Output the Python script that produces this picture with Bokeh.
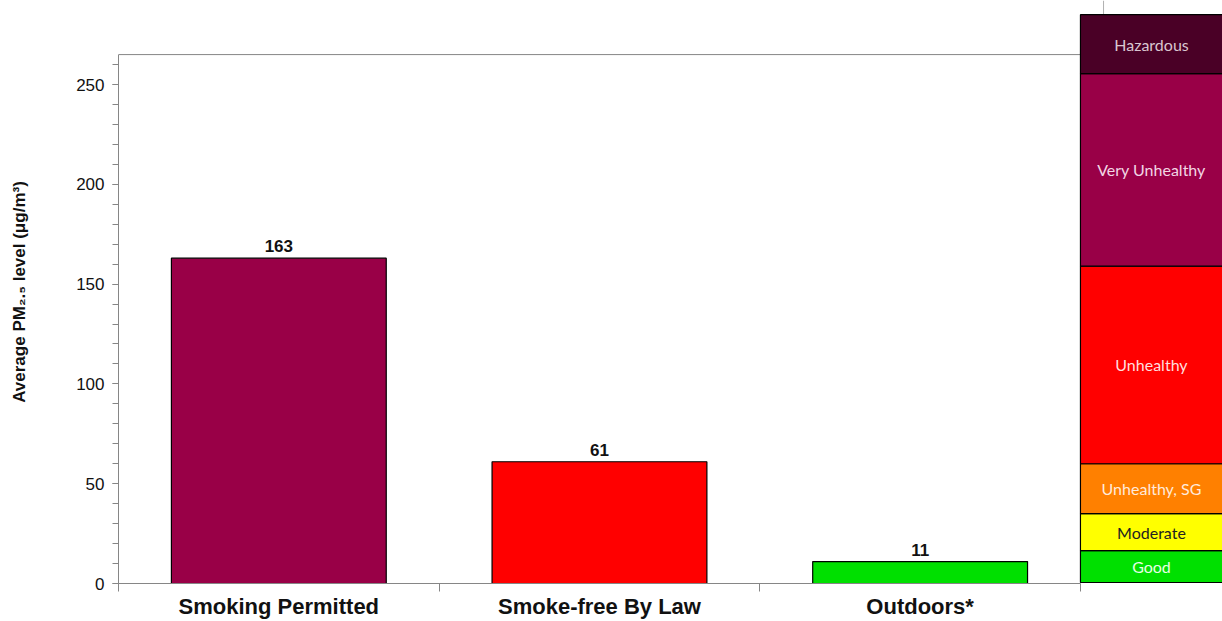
from bokeh.plotting import figure
from bokeh.models import Range1d, SingleIntervalTicker, FixedTicker, ColumnDataSource
from bokeh.core.properties import value
from bokeh.embed import file_html
from bokeh.resources import INLINE

# ---- data ----
categories = ["Smoking Permitted", "Smoke-free By Law", "Outdoors*"]
pm25 = [163, 61, 11]
bar_colors = ["#990047", "#ff0000", "#00e000"]

aqi_names = ["Good", "Moderate", "Unhealthy, SG", "Unhealthy", "Very Unhealthy", "Hazardous"]
aqi_bounds = [0.5, 16.5, 35, 60, 159, 255.5, 285]
aqi_colors = ["#00e000", "#ffff00", "#ff8000", "#ff0000", "#990047", "#4a0026"]
aqi_text_colors = ["#e6ffe6", "#222222", "#ffeadb", "#ffdede", "#f2d6e4", "#d9c6d0"]

Y_MAX = 265          # top of the chart frame
N = len(categories)
X_END = N + 0.443    # room on the right for the AQI colour stack
Y_END = 292.1        # room above for the stack

AX = "#868686"

xc = [i + 0.5 for i in range(N)]
src = ColumnDataSource(dict(x=xc, top=pm25, color=bar_colors, label=[str(v) for v in pm25]))

p = figure(width=1222, height=621, output_backend="svg", toolbar_location=None,
           x_range=Range1d(0, X_END), y_range=Range1d(0, Y_END),
           min_border_left=118, min_border_top=0, min_border_bottom=38, min_border_right=0)
p.background_fill_color = "white"
p.border_fill_color = "white"
p.outline_line_color = None
p.grid.visible = False

# chart frame (top edge)
p.segment(x0=[0], y0=[Y_MAX], x1=[N], y1=[Y_MAX], line_color=AX, line_width=1)

p.vbar(x="x", top="top", width=0.67, bottom=0, fill_color="color", line_color="black",
       line_width=1.2, source=src)
p.text(x="x", y="top", text="label", source=src, text_align="center", text_baseline="bottom",
       y_offset=-6, text_font=value("Liberation Sans"), text_font_size="17px",
       text_font_style="bold", text_color="#111111")

# ---- AQI colour stack ----
q_left = N + 0.0
q_div = N + 0.072
bottoms = aqi_bounds[:-1]
tops = aqi_bounds[1:]
mids = [(b + t) / 2 for b, t in zip(bottoms, tops)]
qsrc = ColumnDataSource(dict(bottom=bottoms, top=tops, color=aqi_colors, name=aqi_names,
                             mid=mids, tcolor=aqi_text_colors,
                             xm=[(q_left + X_END) / 2] * len(aqi_names)))
p.segment(x0=[q_div], y0=[aqi_bounds[-1]], x1=[q_div], y1=[Y_END], line_color="#b0b0b0", line_width=1)
p.quad(left=q_left, right=X_END + 0.05, bottom="bottom", top="top", fill_color="color",
       line_color="black", line_width=1.2, source=qsrc)
p.text(x="xm", y="mid", text="name", source=qsrc, text_align="center", text_baseline="middle",
       text_font=value("Lato"), text_font_size="16px", text_color="tcolor")

# y axis
yax = p.yaxis[0]
yax.bounds = (0, Y_MAX)
yax.ticker = SingleIntervalTicker(interval=50, num_minor_ticks=5)
yax.axis_line_color = AX
yax.major_tick_line_color = AX
yax.minor_tick_line_color = AX
yax.major_tick_in = 0
yax.major_tick_out = 6
yax.minor_tick_in = 0
yax.minor_tick_out = 6
yax.major_label_text_font = "Liberation Sans"
yax.major_label_text_font_size = "17px"
yax.major_label_text_color = "#111111"
yax.major_label_standoff = 8
yax.axis_label = "Average PM₂.₅ level (μg/m³)"
yax.axis_label_text_font = "Liberation Sans"
yax.axis_label_text_font_size = "17px"
yax.axis_label_text_font_style = "bold"
yax.axis_label_text_color = "#111111"
yax.axis_label_standoff = 44

# x axis
xax = p.xaxis[0]
xax.bounds = (0, N)
xax.ticker = FixedTicker(ticks=xc, minor_ticks=list(range(N + 1)))
xax.major_label_overrides = {x: c for x, c in zip(xc, categories)}
xax.axis_line_color = AX
xax.major_tick_line_color = None
xax.major_tick_in = 0
xax.major_tick_out = 8
xax.minor_tick_line_color = AX
xax.minor_tick_in = 0
xax.minor_tick_out = 8
xax.major_label_text_font = "Liberation Sans"
xax.major_label_text_font_size = "22px"
xax.major_label_text_font_style = "bold"
xax.major_label_text_color = "#111111"
xax.major_label_standoff = 2

open("out.html", "w").write(file_html(p, INLINE))
